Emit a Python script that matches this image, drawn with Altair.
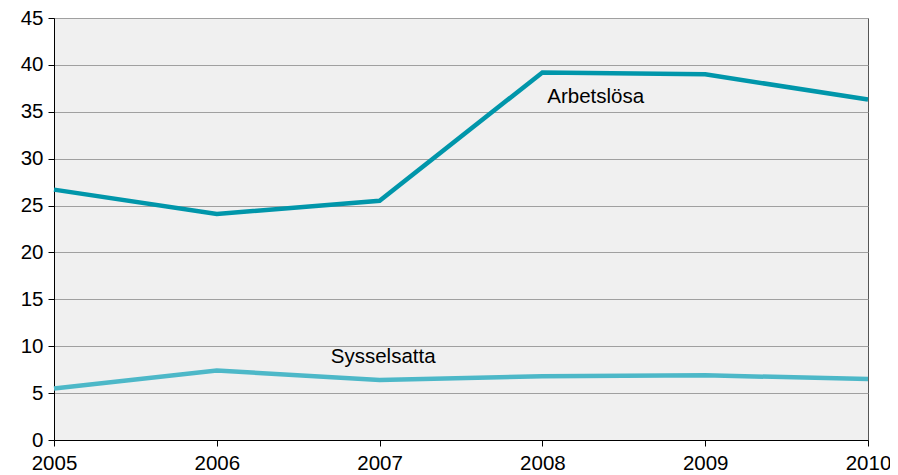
import altair as alt
import pandas as pd

years = [2005, 2006, 2007, 2008, 2009, 2010]
arbetslosa = [26.7, 24.1, 25.5, 39.2, 39.0, 36.3]
sysselsatta = [5.5, 7.4, 6.4, 6.8, 6.9, 6.5]
series_names = ["Arbetslösa", "Sysselsatta"]
series_colors = ["#0096AA", "#4DB8C8"]

label_text = ["Arbetslösa", "Sysselsatta"]
label_x = [2008.03, 2006.70]
label_y = [36.6, 8.8]

rows = []
for y, v in zip(years, arbetslosa):
    rows.append({"year": y, "value": v, "series": series_names[0]})
for y, v in zip(years, sysselsatta):
    rows.append({"year": y, "value": v, "series": series_names[1]})
df = pd.DataFrame(rows)
labels = pd.DataFrame({"text": label_text, "x": label_x, "y": label_y})

FONT = "Liberation Sans"

xscale = alt.Scale(domain=[2005, 2010], nice=False, zero=False)
yscale = alt.Scale(domain=[0, 45], nice=False)

lines = alt.Chart(df).mark_line(strokeWidth=4.5, strokeCap="butt", clip=False).encode(
    x=alt.X("year:Q", scale=xscale,
            axis=alt.Axis(values=years, format="d", title=None, grid=False,
                          domainColor="black", tickColor="black", tickSize=6,
                          labelFontSize=20.5, labelPadding=7, labelColor="black",
                          labelFont=FONT, labelFlush=False)),
    y=alt.Y("value:Q", scale=yscale,
            axis=alt.Axis(values=list(range(0, 46, 5)), title=None, grid=True,
                          gridColor="#a0a0a0", gridWidth=1,
                          domainColor="black", tickColor="black", tickSize=6,
                          labelFontSize=20.5, labelPadding=5, labelColor="black",
                          labelFont=FONT)),
    color=alt.Color("series:N", scale=alt.Scale(domain=series_names, range=series_colors),
                    legend=None),
)

text = alt.Chart(labels).mark_text(align="left", baseline="middle", fontSize=20.5,
                                   font=FONT, color="black").encode(
    x=alt.X("x:Q", scale=xscale),
    y=alt.Y("y:Q", scale=yscale),
    text="text:N",
)

chart = alt.layer(lines, text).properties(
    width=814, height=422,
    autosize=alt.AutoSizeParams(type="none"),
    padding={"left": 46, "top": 10, "right": 22, "bottom": 35},
    background="white",
).configure_view(fill="#f0f0f0", stroke="#555555", strokeWidth=1)

chart.save("out.html", embed_options={"renderer": "svg", "actions": False})
